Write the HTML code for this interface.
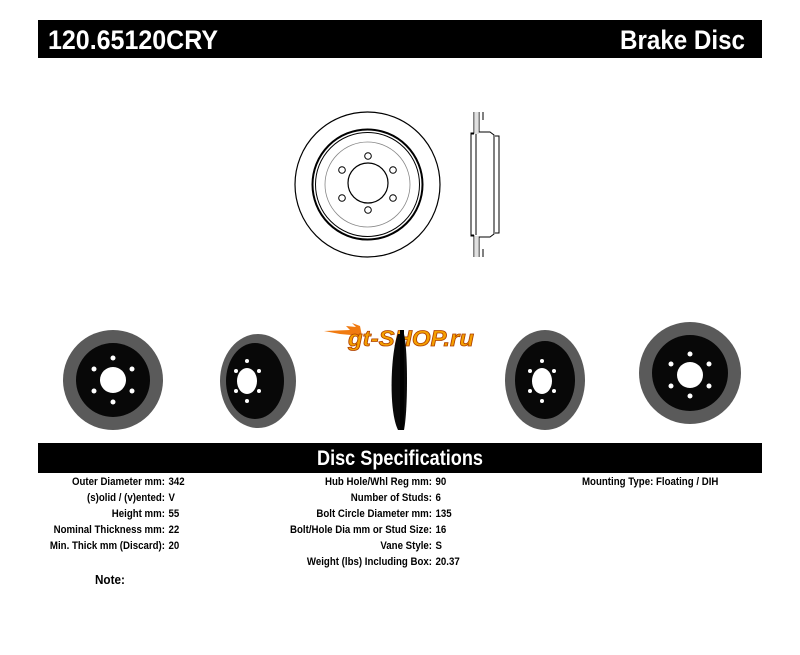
<!DOCTYPE html>
<html><head><meta charset="utf-8"><style>
html,body{margin:0;padding:0;background:#fff;}
svg{display:block;}
text{font-family:"Liberation Sans Narrow","Liberation Sans",Arial,sans-serif;font-weight:bold;}
</style></head><body>
<svg width="800" height="655" viewBox="0 0 800 655" xmlns="http://www.w3.org/2000/svg">
<rect x="38" y="20" width="724" height="38" fill="#000"/>
<text x="48" y="49" font-size="27" fill="#fff" textLength="170" lengthAdjust="spacingAndGlyphs">120.65120CRY</text>
<text x="745" y="49" font-size="27" fill="#fff" text-anchor="end" textLength="125" lengthAdjust="spacingAndGlyphs">Brake Disc</text>

<g fill="none" stroke="#000">
<circle cx="367.5" cy="184.5" r="72.5" stroke-width="1.2"/>
<circle cx="367.5" cy="184.5" r="55" stroke-width="2"/>
<circle cx="367.5" cy="184.5" r="52" stroke-width="1"/>
<circle cx="367.5" cy="184.5" r="42.5" stroke="#888" stroke-width="0.8"/>
<circle cx="368" cy="183" r="20" stroke-width="1.2"/>
<circle cx="368" cy="156" r="3.3"/>
<circle cx="368" cy="210" r="3.3"/>
<circle cx="342" cy="170" r="3.3"/>
<circle cx="393" cy="170" r="3.3"/>
<circle cx="342" cy="198" r="3.3"/>
<circle cx="393" cy="198" r="3.3"/>
</g>
<g fill="none" stroke="#000" stroke-width="1">
<path d="M474 112 V133 H471 V236 H474 V257"/>
<path d="M479 112 V132 H490 L494 135 V234 L490 237 H479 V257"/>
<path d="M483 112 V120 M483 249 V257"/>
<path d="M471 134 H474 M471 235 H474"/>
<path d="M476 134 V235"/>
<path d="M495 136 H499 V233 H495" />
</g>
<rect x="474" y="112" width="5" height="22" fill="#ccc" opacity="0.6"/>
<rect x="474" y="236" width="5" height="21" fill="#ccc" opacity="0.6"/>

<g>
<path d="M324 331 L350 330 L346 326 L356 327 L352 323 L360 326 L362 336 L340 334 Z" fill="#f07a10"/>
<text x="348" y="346" font-size="22" font-style="italic" fill="#f5a000" stroke="#b04000" stroke-width="0.8" textLength="126" lengthAdjust="spacingAndGlyphs">gt-SHOP.ru</text>
</g>

<g>
<circle cx="113" cy="380" r="50" fill="#5a5a5a"/>
<circle cx="113" cy="380" r="37" fill="#080808"/>
<circle cx="113" cy="380" r="13" fill="#fff"/>
<g fill="#fff"><circle cx="113" cy="358" r="2.5"/><circle cx="113" cy="402" r="2.5"/><circle cx="94" cy="369" r="2.5"/><circle cx="132" cy="369" r="2.5"/><circle cx="94" cy="391" r="2.5"/><circle cx="132" cy="391" r="2.5"/></g>

<ellipse cx="258" cy="381" rx="38" ry="47" fill="#5a5a5a"/>
<ellipse cx="255" cy="381" rx="29" ry="38" fill="#080808"/>
<ellipse cx="247" cy="381" rx="10" ry="13" fill="#fff"/>
<g fill="#fff"><circle cx="247" cy="361" r="2"/><circle cx="247" cy="401" r="2"/><circle cx="236" cy="371" r="2"/><circle cx="259" cy="371" r="2"/><circle cx="236" cy="391" r="2"/><circle cx="259" cy="391" r="2"/></g>

<path d="M398 334 C391 350 388 410 398 430 L404 430 C408 410 408 350 404 334 Z" fill="#0a0a0a"/>
<rect x="400" y="330" width="4" height="100" fill="#000"/>

<ellipse cx="545" cy="380" rx="40" ry="50" fill="#5a5a5a"/>
<ellipse cx="545" cy="380" rx="30" ry="39" fill="#080808"/>
<ellipse cx="542" cy="381" rx="10" ry="13" fill="#fff"/>
<g fill="#fff"><circle cx="542" cy="361" r="2"/><circle cx="542" cy="401" r="2"/><circle cx="530" cy="371" r="2"/><circle cx="554" cy="371" r="2"/><circle cx="530" cy="391" r="2"/><circle cx="554" cy="391" r="2"/></g>

<circle cx="690" cy="373" r="51" fill="#5a5a5a"/>
<circle cx="690" cy="373" r="38" fill="#080808"/>
<circle cx="690" cy="375" r="13" fill="#fff"/>
<g fill="#fff"><circle cx="690" cy="354" r="2.5"/><circle cx="690" cy="396" r="2.5"/><circle cx="671" cy="364" r="2.5"/><circle cx="709" cy="364" r="2.5"/><circle cx="671" cy="386" r="2.5"/><circle cx="709" cy="386" r="2.5"/></g>
</g>

<rect x="38" y="443" width="724" height="30" fill="#000"/>
<text x="400" y="465" font-size="21" fill="#fff" text-anchor="middle" textLength="166" lengthAdjust="spacingAndGlyphs">Disc Specifications</text>

<g font-size="11" fill="#000">
<g transform="translate(165,0) scale(0.88,1) translate(-165,0)">
<text x="165" y="485" text-anchor="end">Outer Diameter mm:</text><text x="169" y="485">342</text>
<text x="165" y="501" text-anchor="end">(s)olid / (v)ented:</text><text x="169" y="501">V</text>
<text x="165" y="517" text-anchor="end">Height mm:</text><text x="169" y="517">55</text>
<text x="165" y="533" text-anchor="end">Nominal Thickness mm:</text><text x="169" y="533">22</text>
<text x="165" y="549" text-anchor="end">Min. Thick mm (Discard):</text><text x="169" y="549">20</text>
</g>
<g transform="translate(432,0) scale(0.88,1) translate(-432,0)">
<text x="432" y="485" text-anchor="end">Hub Hole/Whl Reg mm:</text><text x="436" y="485">90</text>
<text x="432" y="501" text-anchor="end">Number of Studs:</text><text x="436" y="501">6</text>
<text x="432" y="517" text-anchor="end">Bolt Circle Diameter mm:</text><text x="436" y="517">135</text>
<text x="432" y="533" text-anchor="end">Bolt/Hole Dia mm or Stud Size:</text><text x="436" y="533">16</text>
<text x="432" y="549" text-anchor="end">Vane Style:</text><text x="436" y="549">S</text>
<text x="432" y="565" text-anchor="end">Weight (lbs) Including Box:</text><text x="436" y="565">20.37</text>
</g>
<g transform="translate(582,0) scale(0.88,1) translate(-582,0)">
<text x="582" y="485">Mounting Type: Floating / DIH</text>
</g>
<text x="95" y="584" font-size="13" transform="translate(95,0) scale(0.9,1) translate(-95,0)">Note:</text>
</g>
</svg>
</body></html>
